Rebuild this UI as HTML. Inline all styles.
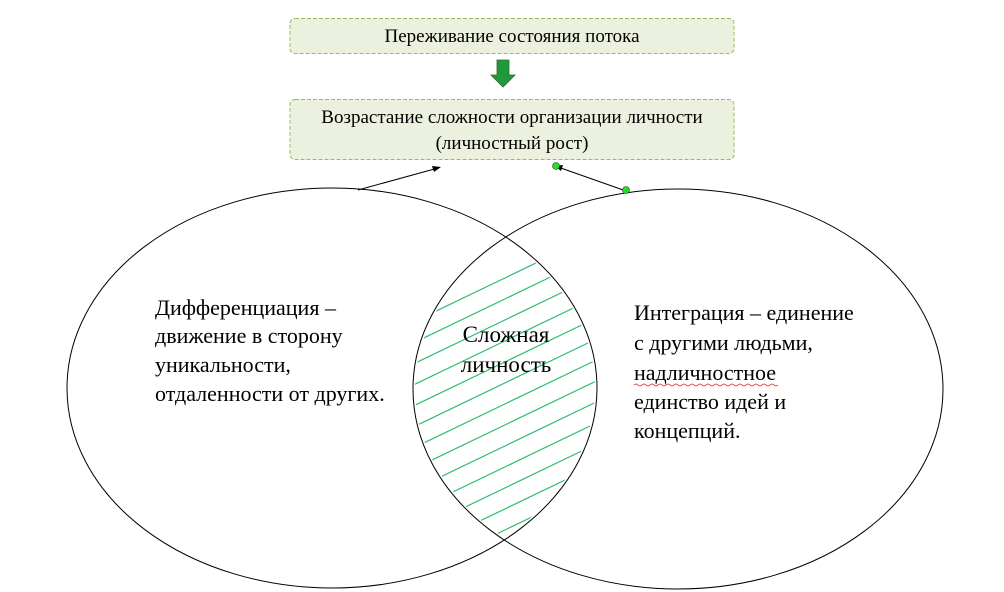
<!DOCTYPE html>
<html><head><meta charset="utf-8"><style>
html,body{margin:0;width:1004px;height:592px;background:#fff;overflow:hidden}
svg{display:block}
text{font-family:"Liberation Serif","Times New Roman",serif;fill:#000}
</style></head><body>
<svg width="1004" height="592" viewBox="0 0 1004 592">
<defs>
<clipPath id="cl"><ellipse cx="332" cy="388" rx="263" ry="198"/></clipPath>
<clipPath id="cr"><ellipse cx="678" cy="389" rx="263" ry="198"/></clipPath>
</defs>
<rect x="290" y="18.5" width="444" height="35" rx="5" fill="#ebf1de" stroke="#9bbb59" stroke-dasharray="4,2"/>
<text x="512" y="42" font-size="19" text-anchor="middle">Переживание состояния потока</text>
<polygon points="497,60 509,60 509,75 515,75 503,87 491,75 497,75" fill="#1f9a3a" stroke="#2b6a2b" stroke-width="0.8"/>
<rect x="290" y="99.5" width="444" height="60" rx="5" fill="#ebf1de" stroke="#9bbb59" stroke-dasharray="4,2"/>
<text x="512" y="123" font-size="19" text-anchor="middle">Возрастание сложности организации личности</text>
<text x="512" y="149" font-size="19" text-anchor="middle">(личностный рост)</text>
<g clip-path="url(#cl)"><g clip-path="url(#cr)" stroke="#2dbd6e" stroke-width="1.2">
<line x1="380" y1="338" x2="640" y2="213"/>
<line x1="380" y1="359" x2="640" y2="234"/>
<line x1="380" y1="380" x2="640" y2="255"/>
<line x1="380" y1="401" x2="640" y2="276"/>
<line x1="380" y1="422" x2="640" y2="297"/>
<line x1="380" y1="443" x2="640" y2="318"/>
<line x1="380" y1="464" x2="640" y2="339"/>
<line x1="380" y1="485" x2="640" y2="360"/>
<line x1="380" y1="506" x2="640" y2="381"/>
<line x1="380" y1="527" x2="640" y2="402"/>
<line x1="380" y1="548" x2="640" y2="423"/>
<line x1="380" y1="569" x2="640" y2="444"/>
<line x1="380" y1="590" x2="640" y2="465"/>
<line x1="380" y1="611" x2="640" y2="486"/>
<line x1="380" y1="632" x2="640" y2="507"/>
</g></g>
<ellipse cx="332" cy="388" rx="265" ry="200" fill="none" stroke="#000" stroke-width="1"/>
<ellipse cx="678" cy="389" rx="265" ry="200" fill="none" stroke="#000" stroke-width="1"/>
<line x1="358" y1="190" x2="438" y2="168" stroke="#000"/>
<polygon points="441,167 432,166 434,172" fill="#000"/>
<line x1="626" y1="191" x2="558" y2="167" stroke="#000"/>
<polygon points="555,166 563,165 561,171" fill="#000"/>
<circle cx="556" cy="166" r="3.5" fill="#22e022" stroke="#333" stroke-width="0.6"/>
<circle cx="626" cy="190" r="3.5" fill="#22e022" stroke="#333" stroke-width="0.6"/>
<g font-size="22">
<text x="155" y="315">Дифференциация –</text>
<text x="155" y="343">движение в сторону</text>
<text x="155" y="372">уникальности,</text>
<text x="155" y="401">отдаленности от других.</text>
<text x="506" y="342" text-anchor="middle" font-size="23">Сложная</text>
<text x="506" y="372" text-anchor="middle" font-size="23">личность</text>
<text x="634" y="320">Интеграция – единение</text>
<text x="634" y="350">с другими людьми,</text>
<text x="634" y="380">надличностное</text>
<text x="634" y="409">единство идей и</text>
<text x="634" y="438">концепций.</text>
</g>
<path d="M634,385 q2,-2 4,0 t4,0 t4,0 t4,0 t4,0 t4,0 t4,0 t4,0 t4,0 t4,0 t4,0 t4,0 t4,0 t4,0 t4,0 t4,0 t4,0 t4,0 t4,0 t4,0 t4,0 t4,0 t4,0 t4,0 t4,0 t4,0 t4,0 t4,0 t4,0 t4,0 t4,0 t4,0 t4,0 t4,0 t4,0 t4,0" fill="none" stroke="#e02020" stroke-width="0.8"/>
</svg>
</body></html>
